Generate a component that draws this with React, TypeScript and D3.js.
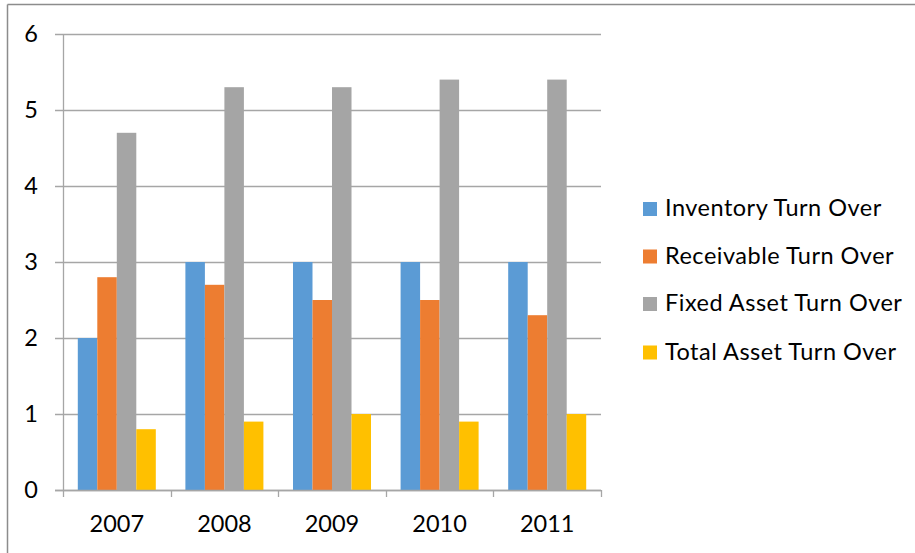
import React from "react";
import * as d3 from "d3";

const years = ["2007", "2008", "2009", "2010", "2011"];
const seriesNames = [
  "Inventory Turn Over",
  "Receivable Turn Over",
  "Fixed Asset Turn Over",
  "Total Asset Turn Over",
];
const inventory = [2, 3, 3, 3, 3];
const receivable = [2.8, 2.7, 2.5, 2.5, 2.3];
const fixedAsset = [4.7, 5.3, 5.3, 5.4, 5.4];
const totalAsset = [0.8, 0.9, 1.0, 0.9, 1.0];
const yTicks = [0, 1, 2, 3, 4, 5, 6];
const colors = ["#5B9BD5", "#ED7D31", "#A5A5A5", "#FFC000"];

const W = 915;
const H = 553;
const FONT = "Lato, 'Open Sans', sans-serif";
const FS = 23.5;

export default function App() {
  const values = [inventory, receivable, fixedAsset, totalAsset];
  const x0 = d3
    .scaleBand<string>()
    .domain(years)
    .range([63, 601])
    .paddingInner(0.275)
    .paddingOuter(0.1375);
  const x1 = d3
    .scaleBand<string>()
    .domain(seriesNames)
    .range([0, x0.bandwidth()])
    .padding(0);
  const y = d3.scaleLinear().domain([0, 6]).range([490, 34]);
  const step = x0.step();
  const tickXs = d3.range(years.length + 1).map((i) => 63 + i * step);
  const gridColor = "#A6A6A6";
  const legendBase = [216, 263.5, 311, 359.5];

  return (
    <svg
      width={W}
      height={H}
      style={{ position: "absolute", left: 0, top: 0, background: "#fff" }}
    >
      <rect x={0} y={0} width={W} height={H} fill="#fff" />
      {/* outer border (top and left) */}
      <line x1={7.5} y1={4.5} x2={W} y2={4.5} stroke="#8C8C8C" strokeWidth={1.5} />
      <line x1={7.5} y1={4.5} x2={7.5} y2={H} stroke="#8C8C8C" strokeWidth={1.5} />

      {/* gridlines and y ticks */}
      {yTicks.map((t) => (
        <g key={t}>
          <line
            x1={55}
            x2={601}
            y1={Math.round(y(t)) + 0.5}
            y2={Math.round(y(t)) + 0.5}
            stroke={gridColor}
            strokeWidth={1.3}
          />
          <text
            x={38}
            y={y(t) + 8}
            textAnchor="end"
            fontFamily={FONT}
            fontSize={FS}
            fill="#000"
          >
            {t}
          </text>
        </g>
      ))}

      {/* bars */}
      {years.map((yr, i) => (
        <g key={yr} transform={`translate(${x0(yr)},0)`}>
          {seriesNames.map((s, j) => (
            <rect
              key={s}
              x={x1(s)}
              y={y(values[j][i])}
              width={x1.bandwidth()}
              height={y(0) - y(values[j][i])}
              fill={colors[j]}
            />
          ))}
        </g>
      ))}

      {/* y axis */}
      <line x1={63.5} x2={63.5} y1={34} y2={490} stroke={gridColor} strokeWidth={1.3} />
      {/* x axis */}
      <line x1={55} x2={601} y1={490.5} y2={490.5} stroke={gridColor} strokeWidth={1.3} />
      {tickXs.map((tx, i) => (
        <line
          key={i}
          x1={Math.round(tx) + 0.5}
          x2={Math.round(tx) + 0.5}
          y1={490}
          y2={497}
          stroke={gridColor}
          strokeWidth={1.3}
        />
      ))}
      {years.map((yr) => (
        <text
          key={yr}
          x={(x0(yr) as number) + x0.bandwidth() / 2}
          y={532}
          textAnchor="middle"
          fontFamily={FONT}
          fontSize={FS}
          fill="#000"
        >
          {yr}
        </text>
      ))}

      {/* legend */}
      {seriesNames.map((s, j) => (
        <g key={s}>
          <rect x={643} y={legendBase[j] - 14} width={14} height={14} fill={colors[j]} />
          <text
            x={665}
            y={legendBase[j]}
            fontFamily={FONT}
            fontSize={FS}
            letterSpacing={0.5}
            fill="#000"
          >
            {s}
          </text>
        </g>
      ))}
    </svg>
  );
}
